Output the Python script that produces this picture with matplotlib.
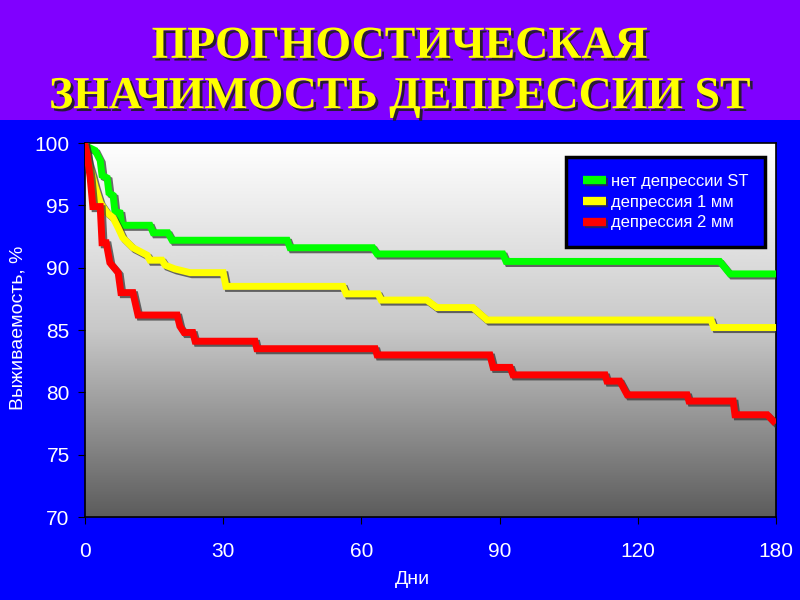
import numpy as np
import matplotlib
matplotlib.use('Agg')
from matplotlib import pyplot as plt
from matplotlib import patheffects as pe
from matplotlib.colors import LinearSegmentedColormap
from matplotlib.patches import Rectangle

plt.rcParams['font.family'] = ['Liberation Sans', 'DejaVu Sans']

# data (x in axis units, last tick is labelled 180)
x_green = [0, 2.2, 3.3, 3.7, 4.8, 5.2, 6.1, 6.5, 7.6, 8.0, 14.1, 14.8, 18.0, 18.9,
           43.9, 44.5, 62.5, 63.4, 90.7, 91.4, 137.8, 138.9, 140.0, 150]
y_green = [99.8, 99.4, 98.6, 97.4, 97.2, 96.0, 95.8, 94.5, 94.4, 93.4, 93.4, 92.8, 92.8, 92.2,
           92.2, 91.6, 91.6, 91.1, 91.1, 90.5, 90.5, 90.0, 89.5, 89.5]

x_yellow = [0, 0.7, 1.5, 2.2, 3.3, 4.8, 6.1, 7.2, 8.2, 10.4, 13.5, 14.1, 16.7, 17.4, 19.5,
            22.8, 30.0, 30.6, 56.0, 56.7, 63.6, 64.3, 74.2, 76.4, 84.2, 87.3, 135.9, 136.5, 150]
y_yellow = [99.8, 98.5, 97.5, 96.5, 95.2, 94.4, 94.0, 93.2, 92.4, 91.6, 91.0, 90.6, 90.6, 90.2, 89.9,
            89.6, 89.6, 88.5, 88.5, 87.9, 87.9, 87.4, 87.4, 86.8, 86.8, 85.8, 85.8, 85.2, 85.2]

x_red = [0, 0.4, 1.1, 1.7, 3.3, 3.7, 4.6, 5.4, 7.2, 7.8, 10.4, 11.5, 20.0, 20.6, 21.5, 23.4,
         23.9, 36.9, 37.3, 63.0, 63.4, 87.9, 88.6, 92.3, 92.9, 112.9, 113.3, 116.1, 117.7,
         130.7, 131.1, 140.7, 141.1, 148.1, 149.4]
y_red = [99.8, 99.2, 97.3, 94.9, 94.9, 92.0, 92.0, 90.4, 89.6, 88.0, 88.0, 86.2, 86.2, 85.3, 84.8, 84.8,
         84.1, 84.1, 83.5, 83.5, 83.0, 83.0, 82.0, 82.0, 81.4, 81.4, 80.9, 80.9, 79.8,
         79.8, 79.3, 79.3, 78.2, 78.2, 77.7]

series_names = ['нет депрессии ST', 'депрессия 1 мм', 'депрессия 2 мм']
xticks = [0, 30, 60, 90, 120, 150]
xtick_labels = ['0', '30', '60', '90', '120', '180']
yticks = [70, 75, 80, 85, 90, 95, 100]

fig = plt.figure(figsize=(8, 6), dpi=100)
fig.patch.set_facecolor('#0000ff')
fig.patches.append(Rectangle((0, 0.8), 1, 0.2, transform=fig.transFigure,
                             facecolor='#8000ff', edgecolor='none', zorder=0))

title_fx = [pe.SimplePatchShadow(offset=(2, -2), shadow_rgbFace='#202020', alpha=0.9), pe.Normal()]
fig.text(0.5, 0.922, 'ПРОГНОСТИЧЕСКАЯ', ha='center', va='center', color='#ffff00',
         fontsize=33, fontweight='bold', family=['Liberation Serif', 'DejaVu Serif'],
         path_effects=title_fx)
fig.text(0.5, 0.838, 'ЗНАЧИМОСТЬ ДЕПРЕССИИ ST', ha='center', va='center', color='#ffff00',
         fontsize=33, fontweight='bold', family=['Liberation Serif', 'DejaVu Serif'],
         path_effects=title_fx)

ax = fig.add_axes([85 / 800, 1 - 517 / 600, 691 / 800, 374 / 600])

# grey gradient background
cmap = LinearSegmentedColormap.from_list('bg', ['#5c5c5c', '#c8c8c8', '#ffffff'])
grad = np.linspace(0, 1, 256).reshape(-1, 1)
ax.imshow(grad, cmap=cmap, origin='lower', extent=[0, 150, 70, 100], aspect='auto', zorder=0)

shadow = [pe.SimpleLineShadow(offset=(1.5, -1.5), shadow_color='#303030', alpha=0.7), pe.Normal()]
ax.plot(x_green, y_green, color='#00ff00', lw=5, label=series_names[0], path_effects=shadow,
        solid_joinstyle='miter', zorder=3)
ax.plot(x_yellow, y_yellow, color='#ffff00', lw=5, label=series_names[1], path_effects=shadow,
        solid_joinstyle='miter', zorder=3)
ax.plot(x_red, y_red, color='#ff0000', lw=5, label=series_names[2], path_effects=shadow,
        solid_joinstyle='miter', zorder=3)

ax.set_xlim(0, 150)
ax.set_ylim(70, 100)
ax.set_xticks(xticks)
ax.set_xticklabels(xtick_labels)
ax.set_yticks(yticks)
ax.tick_params(axis='x', colors='black', labelcolor='white', labelsize=15, length=5, pad=13)
ax.tick_params(axis='y', colors='black', labelcolor='white', labelsize=15, length=5, pad=6)
for s in ax.spines.values():
    s.set_color('black')
    s.set_linewidth(1.2)

fig.text(412 / 800, 1 - 580 / 600, 'Дни', color='white', fontsize=14, ha='center', va='center')
fig.text(18 / 800, 1 - 328 / 600, 'Выживаемость, %', color='white', fontsize=14,
         ha='center', va='center', rotation=90)

leg = ax.legend(loc='upper right', bbox_to_anchor=(765 / 800, 1 - 157 / 600),
                bbox_transform=fig.transFigure, borderaxespad=0, facecolor='#0000ff',
                edgecolor='black', framealpha=1, fancybox=False, fontsize=12,
                labelcolor='white', handlelength=1.4, handletextpad=0.3, borderpad=1.0,
                labelspacing=0.35)
leg.get_frame().set_linewidth(2.5)
for h in leg.legend_handles:
    h.set_linewidth(6)
    h.set_solid_capstyle('butt')

fig.savefig('out.png', dpi=100, facecolor=fig.get_facecolor())
